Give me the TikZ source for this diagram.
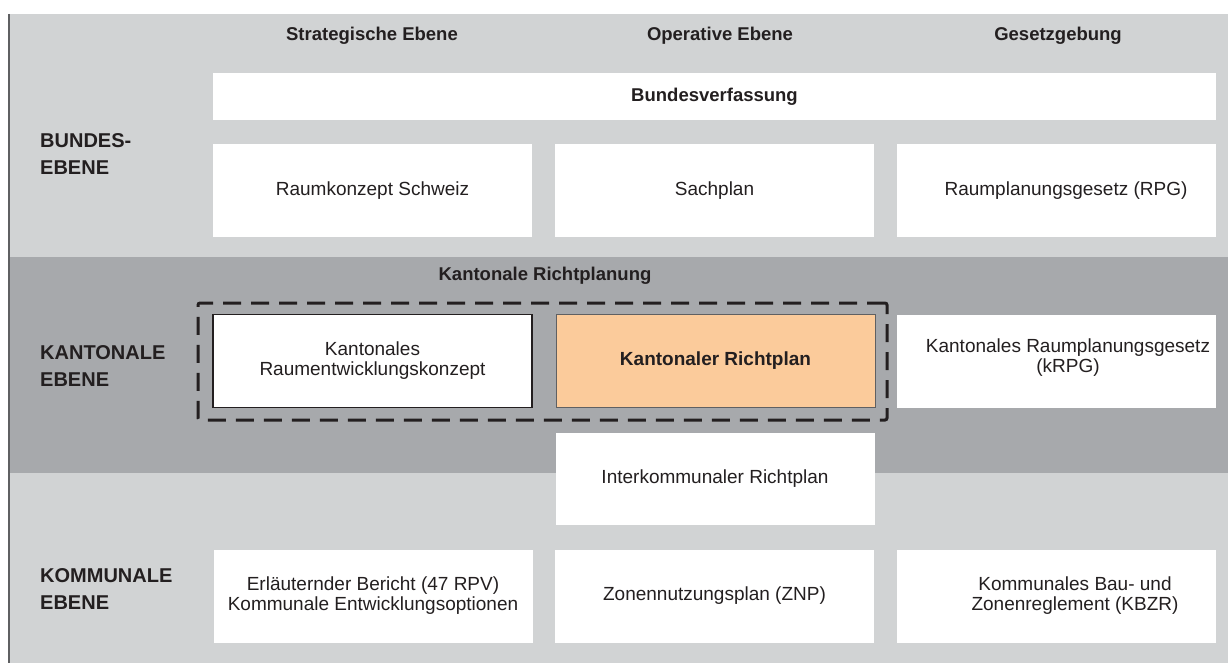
\documentclass[tikz,border=0pt]{standalone}
\usepackage{fontspec}
\setmainfont{Liberation Sans}
\definecolor{lightband}{HTML}{D1D3D4}
\definecolor{darkband}{HTML}{A7A9AC}
\definecolor{edgeline}{HTML}{5F6062}
\definecolor{ink}{HTML}{231F20}
\definecolor{peach}{HTML}{FBCB9B}
\begin{document}
\begin{tikzpicture}[x=1pt,y=-1pt,
  cell/.style={fill=white, draw=none, minimum width=319pt, minimum height=93pt, inner sep=0pt, align=center, text=ink, font=\fontsize{19}{20}\selectfont},
  txt/.style={inner sep=0pt, align=center, text=ink, font=\fontsize{19}{20}\selectfont},
  head/.style={inner sep=0pt, align=center, text=ink, font=\bfseries\fontsize{18.5}{20}\selectfont},
  level/.style={inner sep=0pt, align=left, anchor=west, text=ink, font=\bfseries\fontsize{20}{27}\selectfont},
  dashbox/.style={draw=ink, line width=3pt, dash pattern=on 18pt off 10pt, rounded corners=2pt}]
\useasboundingbox (0,0) rectangle (1228,663);
\fill[white] (0,0) rectangle (1228,663);
\fill[lightband] (8,14) rectangle (1228,663);
\fill[darkband] (8,257) rectangle (1228,473);
\draw[edgeline, line width=2pt] (9,14) -- (9,663);

% column headers
\node[head] (h1) at (372,36) {Strategische Ebene};
\node[head] (h2) at (720,36) {Operative Ebene};
\node[head] (h3) at (1058,36) {Gesetzgebung};

% level labels
\node[level] (l1) at (40,154) {BUNDES-\\EBENE};
\node[level] (l2) at (40,366) {KANTONALE\\EBENE};
\node[level] (l3) at (40,589) {KOMMUNALE\\EBENE};

% Bundesebene
\node[cell, minimum width=1003pt, minimum height=47pt, font=\bfseries\fontsize{18.5}{20}\selectfont] (bv) at (714.5,96.5) {Bundesverfassung};
\node[cell] (b1) at (372.5,190.5) {Raumkonzept Schweiz};
\node[cell] (b2) at (714.5,190.5) {Sachplan};
\node[cell] (b3) at (1056.5,190.5) {};
\node[txt] (b3t) at (1066,190.5) {Raumplanungsgesetz (RPG)};

% Kantonale Ebene
\node[head] (kr) at (545,276) {Kantonale Richtplanung};
\node[dashbox, minimum width=689pt, minimum height=117pt, inner sep=0pt] (dz) at (542.5,361.5) {};
\node[cell, draw=ink, line width=1.2pt] (k1) at (372.5,361) {Kantonales\\Raumentwicklungskonzept};
\node[cell, fill=peach, draw=edgeline, line width=1pt, font=\bfseries\fontsize{19}{20}\selectfont] (k2) at (715.5,361) {Kantonaler Richtplan};
\node[cell] (k3) at (1056.5,361.5) {};
\node[txt] (k3t) at (1068,358) {Kantonales Raumplanungsgesetz\\(kRPG)};
\node[cell, minimum height=92pt] (ik) at (715,479) {Interkommunaler Richtplan};

% Kommunale Ebene
\node[cell] (m1) at (373,596) {Erläuternder Bericht (47 RPV)\\Kommunale Entwicklungsoptionen};
\node[cell] (m2) at (714.5,596) {Zonennutzungsplan (ZNP)};
\node[cell] (m3) at (1056.5,596) {};
\node[txt] (m3t) at (1075,596) {Kommunales Bau- und\\Zonenreglement (KBZR)};
\end{tikzpicture}
\end{document}
